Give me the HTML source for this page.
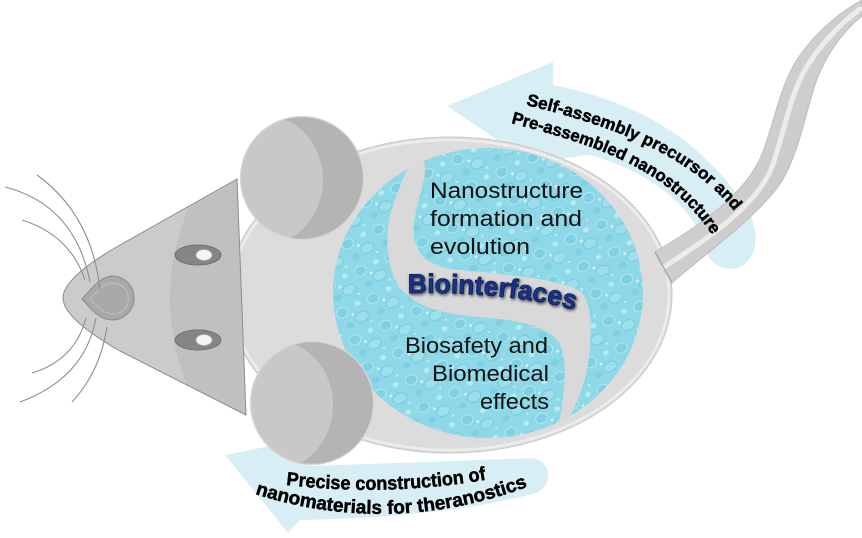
<!DOCTYPE html>
<html><head><meta charset="utf-8"><style>
html,body{margin:0;padding:0;background:#fff;}
svg{display:block;}
text{font-family:"Liberation Sans",sans-serif;}
</style></head><body>
<svg width="862" height="538" viewBox="0 0 862 538" xmlns="http://www.w3.org/2000/svg">
<defs>
  <pattern id="drops" width="34" height="30" patternUnits="userSpaceOnUse" patternTransform="rotate(-25)">
    <rect width="34" height="30" fill="#8ed8e7"/>
    <ellipse cx="8" cy="8" rx="6" ry="5" fill="#7fd0e2" stroke="#aee8f2" stroke-width="1"/>
    <ellipse cx="24" cy="20" rx="7" ry="5" fill="#9fdfec" stroke="#76cbdf" stroke-width="1"/>
    <ellipse cx="26" cy="6" rx="3" ry="2.5" fill="#b5ecf4"/>
    <ellipse cx="10" cy="23" rx="4" ry="3" fill="#7ecfe1"/>
    <circle cx="17" cy="14" r="1.5" fill="#c9f2f7"/>
    <circle cx="31" cy="28" r="1.1" fill="#c9f2f7"/>
  </pattern>
  <clipPath id="circ"><ellipse cx="488" cy="293" rx="155" ry="145"/></clipPath>
  <clipPath id="headclip"><path d="M237,179 L120,245 C85,265 63,283 63,298 C63,313 85,331 120,351 L246,415 Z"/></clipPath>
  <clipPath id="ear1"><circle cx="302" cy="178" r="62"/></clipPath>
  <clipPath id="ear2"><circle cx="312" cy="403" r="62"/></clipPath>
  <linearGradient id="tailg" x1="0" y1="0" x2="1" y2="1">
    <stop offset="0" stop-color="#d6d6d6"/>
    <stop offset="1" stop-color="#c6c6c6"/>
  </linearGradient>
  <filter id="glow" x="-10%" y="-30%" width="120%" height="160%">
    <feGaussianBlur in="SourceAlpha" stdDeviation="1.6"/>
    <feOffset dx="1" dy="1.5" result="b"/>
    <feComponentTransfer in="b" result="c"><feFuncA type="linear" slope="0.7"/></feComponentTransfer>
    <feMerge><feMergeNode in="c"/><feMergeNode in="SourceGraphic"/></feMerge>
  </filter>
  <path id="tp1" d="M526,105 C600,123 690,151 738,216"/>
  <path id="tp2" d="M511,123 C590,144 670,167 714,238"/>
  <path id="bp1" d="M286,485 Q390,497 490,479"/>
  <path id="bp2" d="M255,494 Q390,537 527,487"/>
  <path id="bio" d="M408,293 C460,292 530,296 578,311"/>
</defs>

<!-- top arrow -->
<path d="M447,106 L553,62 L553,85 C630,100 700,135 748,210 C760,232 758,258 740,267 C727,272 714,266 708,256 C700,215 660,175 590,155 L530,162 Z" fill="#d8eef5"/>
<!-- bottom arrow -->
<path d="M225,455 L300,440 L310,466 C400,463 480,460 532,458 C553,460 554,490 532,494 C480,508 400,518 300,520 L288,533 Z" fill="#d8eef5"/>

<!-- body -->
<ellipse cx="450" cy="295" rx="222" ry="158" fill="#dcdcdc" stroke="#c8c8c8" stroke-width="1"/>
<ellipse cx="450" cy="295" rx="219" ry="155" fill="none" stroke="#ededed" stroke-width="2.5"/>

<!-- blue circle -->
<ellipse cx="488" cy="293" rx="155" ry="145" fill="url(#drops)"/>
<!-- S band -->
<g clip-path="url(#circ)">
<path d="M418,150 C434,170 418,190 414,222 C411,245 420,262 445,268 C490,274 550,276 578,290 C595,300 592,345 586,375 C580,400 568,420 555,445 C562,410 568,375 563,352 C558,332 535,322 490,318 C450,315 420,310 402,290 C385,270 384,230 393,205 C400,185 408,165 418,150 Z" fill="#d9d9d9"/>
</g>

<!-- tail -->
<path d="M655,252 C700,225 745,195 762,154 C775,120 780,85 798,58 C815,33 838,13 862,0 L862,16 C845,30 828,50 816,82 C805,115 800,150 782,181 C760,215 710,250 672,283 Z" fill="url(#tailg)" stroke="#b8b8b8" stroke-width="0.8" stroke-linejoin="round"/>
<path d="M664,267 C710,237 757,205 772,167 C785,130 790,95 806,68 C820,45 840,24 860,9" fill="none" stroke="#efefef" stroke-width="5" stroke-linecap="round" opacity="0.9"/>
<path d="M655,252 L672,283" stroke="#a8a8a8" stroke-width="1.5"/>

<!-- head -->
<path d="M237,179 L120,245 C85,265 63,283 63,298 C63,313 85,331 120,351 L246,415 Z" fill="#cbcbcb"/>
<g clip-path="url(#headclip)">
  <path d="M192,200 Q148,298 192,398 L270,430 L270,160 Z" fill="#c0c0c0"/>
</g>
<path d="M237,179 L120,245 C85,265 63,283 63,298 C63,313 85,331 120,351 L246,415 Z" fill="none" stroke="#8c8c8c" stroke-width="1"/>

<!-- nose -->
<path d="M82,299 C92,288 100,277 112,276 A22,22 0 1 1 112,320 C100,320 92,310 82,299 Z" fill="#a9a9a9" stroke="#8a8a8a" stroke-width="1"/>
<path d="M90,299 C98,291 104,283 113,283 A15,15 0 1 1 113,314 C104,314 98,307 90,299 Z" fill="none" stroke="#bcbcbc" stroke-width="1.2"/>

<!-- eyes -->
<ellipse cx="198" cy="255" rx="23" ry="10" fill="#858585" stroke="#707070" stroke-width="1"/>
<ellipse cx="204" cy="255" rx="8" ry="5.5" fill="#f4f4f4" stroke="#aaa" stroke-width="0.8"/>
<ellipse cx="198" cy="340" rx="23" ry="10" fill="#858585" stroke="#707070" stroke-width="1"/>
<ellipse cx="204" cy="340" rx="8" ry="5.5" fill="#f4f4f4" stroke="#aaa" stroke-width="0.8"/>

<!-- whiskers -->
<g fill="none" stroke="#8f8f8f" stroke-width="1.1">
  <path d="M37,175 Q92,215 100,290"/>
  <path d="M5,187 Q75,205 90,282"/>
  <path d="M22,220 Q70,235 85,280"/>
  <path d="M32,373 Q75,360 86,318"/>
  <path d="M20,402 Q85,378 96,318"/>
  <path d="M72,402 Q100,372 107,327"/>
</g>

<!-- ears -->
<g>
  <circle cx="302" cy="178" r="62" fill="#b4b4b4"/>
  <g clip-path="url(#ear1)">
    <ellipse cx="266" cy="180" rx="57" ry="64" fill="#c8c8c8"/>
    <path d="M345,130 A62,62 0 0 1 348,222" fill="none" stroke="#f0f0f0" stroke-width="3"/>
  </g>
  <circle cx="302" cy="178" r="61.5" fill="none" stroke="#d8d8d8" stroke-width="1.2"/>
</g>
<g>
  <circle cx="312" cy="403" r="62" fill="#b4b4b4"/>
  <g clip-path="url(#ear2)">
    <ellipse cx="276" cy="405" rx="57" ry="64" fill="#c8c8c8"/>
    <path d="M355,355 A62,62 0 0 1 358,447" fill="none" stroke="#f0f0f0" stroke-width="3"/>
  </g>
  <circle cx="312" cy="403" r="61.5" fill="none" stroke="#d8d8d8" stroke-width="1.2"/>
</g>

<!-- inner texts -->
<g fill="#111" font-size="22">
  <text x="430" y="198" textLength="153" lengthAdjust="spacingAndGlyphs">Nanostructure</text>
  <text x="430" y="226" textLength="152" lengthAdjust="spacingAndGlyphs">formation and</text>
  <text x="430" y="254" textLength="100" lengthAdjust="spacingAndGlyphs">evolution</text>
  <text x="405" y="353" textLength="143" lengthAdjust="spacingAndGlyphs">Biosafety and</text>
  <text x="432" y="381" textLength="117" lengthAdjust="spacingAndGlyphs">Biomedical</text>
  <text x="480" y="409" textLength="69" lengthAdjust="spacingAndGlyphs">effects</text>
</g>
<text font-size="27" font-weight="bold" fill="#12318a" stroke="#0a1c55" stroke-width="0.7" filter="url(#glow)"><textPath href="#bio" textLength="168" lengthAdjust="spacingAndGlyphs">Biointerfaces</textPath></text>

<!-- arrow texts -->
<g font-size="17" font-weight="bold" fill="#000" stroke="#000" stroke-width="0.5">
  <text><textPath href="#tp1" textLength="238" lengthAdjust="spacingAndGlyphs">Self-assembly precursor and</textPath></text>
  <text><textPath href="#tp2" textLength="236" lengthAdjust="spacingAndGlyphs">Pre-assembled nanostructure</textPath></text>
</g>
<g font-size="19" font-weight="bold" fill="#000" stroke="#000" stroke-width="0.5">
  <text><textPath href="#bp1" textLength="201" lengthAdjust="spacingAndGlyphs">Precise construction of</textPath></text>
  <text><textPath href="#bp2" textLength="278" lengthAdjust="spacingAndGlyphs">nanomaterials for theranostics</textPath></text>
</g>
</svg>
</body></html>
